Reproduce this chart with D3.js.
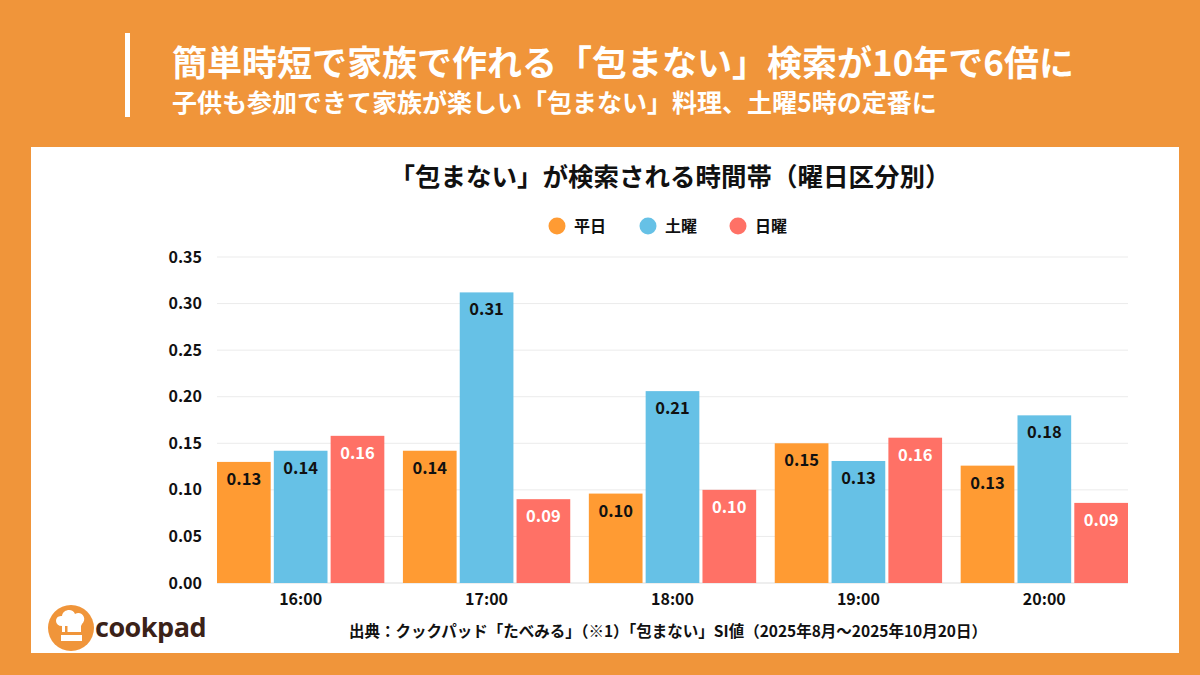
<!DOCTYPE html>
<html>
<head>
<meta charset="utf-8">
<script src="https://cdn.jsdelivr.net/npm/d3@7"></script>
<style>
  body { margin: 0; background: #F0953A; }
  svg { display: block; font-family: "Noto Sans CJK JP", "Noto Sans", sans-serif; }
</style>
</head>
<body>
<div id="chart"></div>
<script>
// data
const hours = ["16:00", "17:00", "18:00", "19:00", "20:00"];
const seriesNames = ["平日", "土曜", "日曜"];
const heijitsu = [0.130, 0.142, 0.096, 0.150, 0.126];
const doyou = [0.142, 0.312, 0.206, 0.131, 0.180];
const nichiyou = [0.158, 0.090, 0.100, 0.156, 0.086];
const yTicks = [0, 0.05, 0.10, 0.15, 0.20, 0.25, 0.30, 0.35];

const colors = ["#FF9B33", "#66C1E6", "#FF7166"];
const labelColors = ["#111", "#111", "#fff"];

const width = 1200, height = 675;
const svg = d3.select("#chart").append("svg")
    .attr("width", width)
    .attr("height", height);

svg.append("rect").attr("width", width).attr("height", height).attr("fill", "#F0953A");

// header
svg.append("rect").attr("x", 125).attr("y", 33).attr("width", 5).attr("height", 84).attr("fill", "#fff");
svg.append("text").attr("x", 172).attr("y", 76)
    .attr("fill", "#fff").attr("font-size", 35).attr("font-weight", 700)
    .text("簡単時短で家族で作れる「包まない」検索が10年で6倍に");
svg.append("text").attr("x", 172).attr("y", 112)
    .attr("fill", "#fff").attr("font-size", 25).attr("font-weight", 700)
    .text("子供も参加できて家族が楽しい「包まない」料理、土曜5時の定番に");

// white panel
svg.append("rect").attr("x", 31).attr("y", 147).attr("width", 1148).attr("height", 506).attr("fill", "#fff");

svg.append("text").attr("x", 670).attr("y", 186).attr("text-anchor", "middle")
    .attr("fill", "#111").attr("font-size", 25.5).attr("font-weight", 700)
    .text("「包まない」が検索される時間帯（曜日区分別）");

// legend
const legendX = [557, 648, 738];
const legend = svg.append("g").selectAll("g").data(seriesNames).enter().append("g")
    .attr("transform", (d, i) => "translate(" + legendX[i] + ",226)");
legend.append("circle").attr("r", 8.5).attr("fill", (d, i) => colors[i]);
legend.append("text").attr("x", 17).attr("y", 6)
    .attr("font-size", 16).attr("font-weight", 700).attr("fill", "#111")
    .text(d => d);

// scales
const margin = { left: 217, right: 1128, top: 257, bottom: 583 };
const x0 = d3.scaleBand().domain(hours).range([margin.left, margin.right]).paddingInner(0.1).paddingOuter(0);
const x1 = d3.scaleBand().domain([0, 1, 2]).range([0, x0.bandwidth()]).paddingInner(0.055);
const y = d3.scaleLinear().domain([0, 0.35]).range([margin.bottom, margin.top]);

// grid
svg.append("g").selectAll("line").data(yTicks).enter().append("line")
    .attr("x1", margin.left).attr("x2", margin.right)
    .attr("y1", d => y(d)).attr("y2", d => y(d))
    .attr("stroke", d => d === 0 ? "#ddd" : "#ebebeb").attr("stroke-width", 1);

const yAxis = svg.append("g").attr("transform", "translate(" + (margin.left - 12) + ",0)")
    .call(d3.axisLeft(y).tickValues(yTicks).tickFormat(d3.format(".2f")).tickSize(0));
yAxis.select(".domain").remove();
yAxis.selectAll("text").attr("font-size", 16).attr("font-weight", 700).attr("fill", "#111")
    .attr("font-family", "Noto Sans CJK JP");

const xAxis = svg.append("g").attr("transform", "translate(0," + (margin.bottom + 8) + ")")
    .call(d3.axisBottom(x0).tickSize(0));
xAxis.select(".domain").remove();
xAxis.selectAll("text").attr("font-size", 16).attr("font-weight", 700).attr("fill", "#111")
    .attr("font-family", "Noto Sans CJK JP");

// bars
const allSeries = [heijitsu, doyou, nichiyou];
const rows = [];
hours.forEach((h, i) => {
  allSeries.forEach((s, k) => rows.push({ hour: h, k: k, v: s[i] }));
});

const bars = svg.append("g").selectAll("g").data(rows).enter().append("g");
bars.append("rect")
    .attr("x", d => x0(d.hour) + x1(d.k))
    .attr("y", d => y(d.v))
    .attr("width", x1.bandwidth())
    .attr("height", d => y(0) - y(d.v))
    .attr("fill", d => colors[d.k]);
bars.append("text")
    .attr("x", d => x0(d.hour) + x1(d.k) + x1.bandwidth() / 2)
    .attr("y", d => y(d.v) + 23)
    .attr("text-anchor", "middle")
    .attr("font-size", 16.5).attr("font-weight", 700)
    .attr("fill", d => labelColors[d.k])
    .text(d => d3.format(".2f")(d.v));

// source
svg.append("text").attr("x", 668).attr("y", 637).attr("text-anchor", "middle")
    .attr("font-size", 15.5).attr("font-weight", 700).attr("fill", "#111")
    .text("出典：クックパッド「たべみる」（※1）「包まない」SI値（2025年8月～2025年10月20日）");

// logo
const logo = svg.append("g").attr("transform", "translate(71,628)");
logo.append("circle").attr("r", 23).attr("fill", "#F0953A");
logo.append("path")
    .attr("d", "M-9,4 L-9,-2 C-17,-2 -17,-13 -9,-12 C-8,-19 2,-20 4,-14 C10,-18 17,-10 11,-4 L10,-2 L10,4 Z")
    .attr("fill", "#fff");
logo.append("rect").attr("x", -10).attr("y", 7).attr("width", 21).attr("height", 6).attr("fill", "#fff");
logo.append("rect").attr("x", -6).attr("y", -2).attr("width", 2.5).attr("height", 8).attr("fill", "#F0953A");
svg.append("text").attr("x", 95).attr("y", 637)
    .attr("font-size", 27).attr("font-weight", 700).attr("fill", "#3B2218")
    .attr("font-family", "Open Sans")
    .attr("letter-spacing", -0.5)
    .text("cookpad");
</script>
</body>
</html>
